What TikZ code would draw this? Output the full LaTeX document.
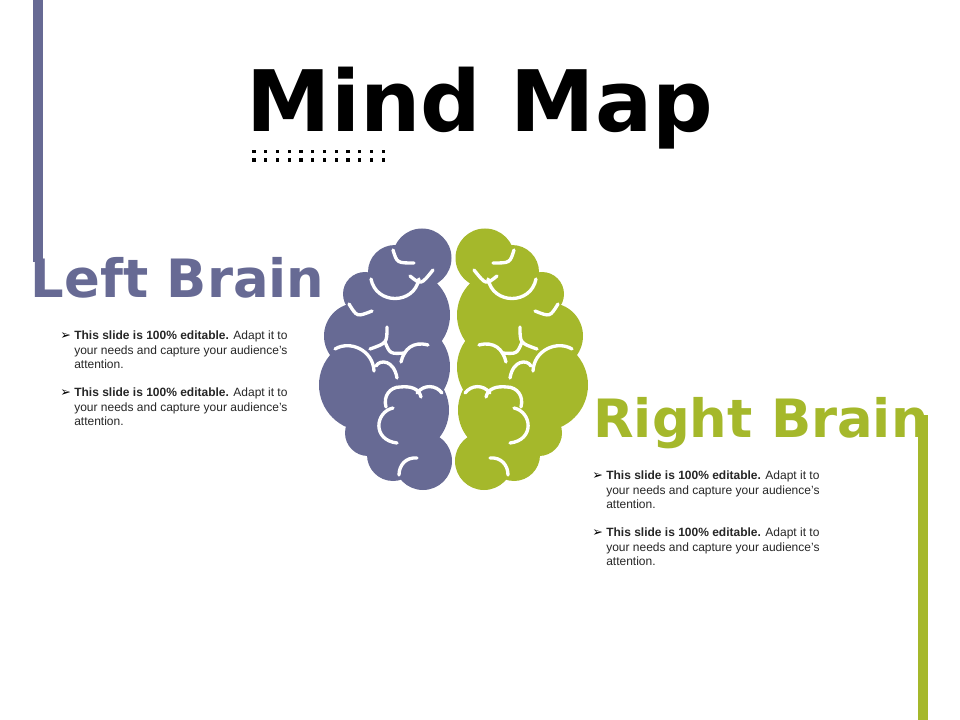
\documentclass[tikz,border=0pt]{standalone}
\usepackage{fontspec}
\setmainfont{Liberation Sans}
\newfontfamily\headfont{DejaVu Sans}
\newfontfamily\bulletfont{DejaVu Sans}
\definecolor{brainpurple}{HTML}{676A94}
\definecolor{braingreen}{HTML}{A5B82B}
\definecolor{bodytext}{HTML}{262626}
\newcommand{\brainshape}[1]{%
  \fill[#1] (422,258) circle (29.5) (395,272) circle (27) (365,294) circle (22)
    (405,315) circle (45) (357,336) circle (33) (365,385) circle (46)
    (405,367) circle (45) (405,410) circle (44) (368,433) circle (23)
    (393,455) circle (26) (423,461) circle (29);
  \draw[sulcus] (393,250) .. controls (397,263) .. (414,263);
  \draw[sulcus] (371,279) .. controls (376,305) and (414,305) .. (419,279);
  \draw[sulcus] (410,276) .. controls (421,285) .. (433,270);
  \draw[sulcus] (349,304) .. controls (357,317) .. (372,311);
  \draw[sulcus] (387,327) .. controls (387,343) .. (370,349);
  \draw[sulcus] (335,349) .. controls (350,340) and (373,350) .. (374,371);
  \draw[sulcus] (385,342) .. controls (390,354) .. (405,353);
  \draw[sulcus] (428,345) .. controls (413,341) and (404,349) .. (401,362);
  \draw[sulcus] (376,366) .. controls (380,359) and (394,360) .. (397,378);
  \draw[sulcus] (386,407) .. controls (383,396) and (390,387) .. (400,387)
     .. controls (410,386) and (419,388) .. (421,397);
  \draw[sulcus] (417,393) .. controls (424,384) and (436,385) .. (442,393);
  \draw[sulcus] (393,408) .. controls (375,412) and (372,440) .. (397,443);
  \draw[sulcus] (417,458) .. controls (406,457) and (399,465) .. (399,475);
}
\newcommand{\bulletline}[3]{%
  \node[bullettext] (#1b) at (#2,#3+2) {\bulletfont\char"27A2};
  \node[bodynote] (#1) at (#2+14,#3+1) {\textbf{This slide is 100\% editable.} Adapt it to\\your needs and capture your audience's\\attention.};
}
\tikzset{
  x=0.75pt,y=-0.75pt,
  sulcus/.style={draw=white,line width=2.5pt,line cap=round},
  bodynote/.style={anchor=north west,inner sep=0pt,align=left,text=bodytext,font=\fontsize{9}{10.75}\selectfont},
  bullettext/.style={anchor=north west,inner sep=0pt,text=black,font=\fontsize{9.5}{11}\selectfont},
  heading/.style={anchor=base west,inner sep=0pt,font=\headfont\bfseries\fontsize{39.6}{40}\selectfont},
  dotmark/.style={fill=black,minimum size=2.6pt,inner sep=0pt,draw=none}
}
\begin{document}
\begin{tikzpicture}
\useasboundingbox (0,0) rectangle (960,720);
\fill[brainpurple] (33,0) rectangle (43,262);
\fill[braingreen] (918,415) rectangle (928,720);
\node[heading,font=\headfont\bfseries\fontsize{63.6}{64}\selectfont,text=black] (title) at (246.5,132) {Mind Map};
\foreach \i in {0,...,11}{
  \node[dotmark] (da\i) at (254+11.75*\i,151.7) {};
  \node[dotmark] (db\i) at (254+11.75*\i,160) {};
}
\node[heading,text=brainpurple] (leftt) at (30.5,297) {Left Brain};
\node[heading,text=braingreen] (rightt) at (593,437) {Right Brain};
\brainshape{brainpurple}
\begin{scope}[xshift=680.25pt,x=-0.75pt]
\brainshape{braingreen}
\end{scope}
\bulletline{la}{60}{330}
\bulletline{lb}{60}{387}
\bulletline{ra}{592}{470}
\bulletline{rb}{592}{527}
\end{tikzpicture}
\end{document}
